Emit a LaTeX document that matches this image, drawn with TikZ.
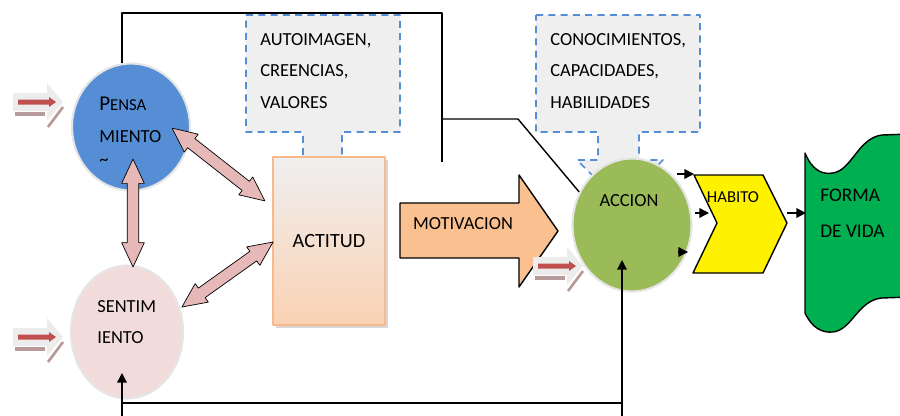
\documentclass[tikz,border=0pt]{standalone}
\usepackage{fontspec}
\setmainfont{Carlito}
\usetikzlibrary{shapes.geometric,shapes.arrows,calc,shadows,arrows.meta}
\definecolor{pensablue}{HTML}{558ED5}
\definecolor{sentimpink}{HTML}{F2DCDB}
\definecolor{acciongreen}{HTML}{9BBB59}
\definecolor{formagreen}{HTML}{00B050}
\definecolor{motivorange}{HTML}{FAC090}
\definecolor{actitudedge}{HTML}{FAB98A}
\definecolor{actitudlow}{HTML}{FAD2B4}
\definecolor{calloutgray}{HTML}{EFEFEF}
\definecolor{pinkarrow}{HTML}{E6B9B8}
\definecolor{inred}{HTML}{C0504D}
\definecolor{inshadow}{HTML}{B79A9A}
\begin{document}
\begin{tikzpicture}[>={Triangle[length=5.5pt,width=5.5pt]},line join=round,x=0.02cm,y=-0.02cm,font=\fontsize{10.5}{18}\selectfont,
	blob/.style={ellipse,draw=gray!20,line width=1.2pt,inner sep=0pt},
	dblarrow/.style={double arrow,draw=black,line width=0.4pt,fill=pinkarrow,minimum width=0.44cm,double arrow head extend=0.11cm,double arrow tip angle=50,inner xsep=0pt,inner ysep=0.11cm},
	callout/.style={draw=pensablue,dash pattern=on 4pt off 3pt,line width=0.9pt,fill=calloutgray},
	txt/.style={inner sep=0pt,align=left,anchor=north west},
	link/.style={line width=0.8pt}]
	\useasboundingbox (0,0) rectangle (900,416);
	% callouts
	\draw[callout] (246,15) -- (400,15) -- (400,132) -- (342,132) -- (342,160) -- (365,160) -- (322,203) -- (280,160) -- (303,160) -- (303,132) -- (246,132) -- cycle;
	\draw[callout] (536,15) -- (700,15) -- (700,132) -- (639,132) -- (639,160) -- (663,160) -- (620,203) -- (577,160) -- (598,160) -- (598,132) -- (536,132) -- cycle;
	\node[txt] (autoimg) at (260,33) {AUTOIMAGEN,\\CREENCIAS,\\VALORES};
	\node[txt] (conoc) at (550,33) {CONOCIMIENTOS,\\CAPACIDADES,\\HABILIDADES};
	% nodes
	\node[blob,fill=pensablue,minimum width=2.36cm,minimum height=2.54cm] (pensa) at (131,127) {};
	\node[blob,fill=sentimpink,minimum width=2.24cm,minimum height=2.66cm] (sentim) at (127,332) {};
	\node[blob,fill=acciongreen,minimum width=2.38cm,minimum height=2.66cm] (accion) at (632,225) {};
	\node[draw=actitudedge,line width=1.2pt,top color=calloutgray,bottom color=actitudlow,minimum width=2.24cm,minimum height=3.36cm,inner sep=0pt,drop shadow={shadow xshift=1.5pt,shadow yshift=-1.5pt,fill=black!30},font=\fontsize{11.5}{14}\selectfont] (actitud) at (329,241) {ACTITUD\hspace{7pt}};
	\node[txt] (pensatxt) at (99,97) {{\fontsize{12}{18}\selectfont P}{\fontsize{9.5}{18}\selectfont ENSA}\\MIENTO\\[-5pt]\textasciitilde};
	\node[txt] (sentimtxt) at (97,300) {SENTIM\\IENTO};
	\node (acciontxt) at (629,201) {ACCION};
	% motivacion
	\fill[motivorange,draw=black,link] (400,203) -- (519,203) -- (519,175) -- (558,231) -- (519,287) -- (519,258) -- (400,258) -- cycle;
	\node (motiv) at (463,224) {MOTIVACION};
	% habito
	\fill[yellow,draw=black,link] (694,175) -- (763,175) -- (787,223) -- (763,273) -- (693,273) -- (717,223) -- cycle;
	\node[font=\fontsize{9.5}{12}\selectfont] (habito) at (733,197) {HABITO};
	% forma de vida
	\begin{scope}
		\clip (0,0) rectangle (900,416);
		\fill[formagreen,draw=black,link] (805,153) .. controls (812,170) and (822,175) .. (833,173) .. controls (852,170) and (858,138) .. (882,135) -- (910,134) -- (910,297) -- (882,298) .. controls (858,300) and (852,330) .. (833,332) .. controls (822,333) and (812,328) .. (805,313) -- cycle;
	\end{scope}
	\node[txt,font=\fontsize{11}{20}\selectfont] (forma) at (820,189) {FORMA\\DE VIDA};
	% connectors
	\coordinate (topend) at (442,162);
	\coordinate (brk) at (442,119);
	\coordinate (s_in) at (122,373);
	\coordinate (a_in) at (622,260);
	\draw[link] ($(pensa.north)+(-9,1)$) |- (442,13) -- (topend);
	\draw[link] (brk) -- (518,119) -- (accion.148);
	\draw[link,->] (122,416) -- (s_in);
	\draw[link,->] (622,416) -- (a_in);
	\draw[link] (122,403) -- (622,403);
	\draw[link,->] (677,174) -- (694,174);
	\draw[link,->] (695,213) -- (709,213);
	\draw[link,->] (678,252) -- (688,252);
	\draw[link,->] (787,213) -- (806,213);
	% double arrows
	\coordinate (pa1) at (172,128);
	\coordinate (pa2) at (265,201);
	\coordinate (sa1) at (182,307);
	\coordinate (sa2) at (273,242);
	\coordinate (ps1) at (133,159);
	\coordinate (ps2) at (133,267);
	\node[dblarrow,rotate=-38.1,minimum height=2.36cm] (pa) at ($(pa1)!.5!(pa2)$) {};
	\node[dblarrow,rotate=35.5,minimum height=2.24cm] (sa) at ($(sa1)!.5!(sa2)$) {};
	\node[dblarrow,rotate=90,minimum height=2.16cm] (ps) at ($(ps1)!.5!(ps2)$) {};
	% input arrows
	\foreach \dx/\dy in {0/0,0/235,520/164}{
		\begin{scope}[shift={(\dx,\dy)}]
			\fill[gray!15] (13,93) -- (47,93) -- (47,83) -- (63,102) -- (47,121) -- (47,111) -- (13,111) -- cycle;
			\draw[inshadow,line width=2pt] (15,114) -- (45,114);
			\draw[inshadow,line width=1.5pt] (48,127) -- (63,107);
			\fill[inred] (18,99.5) -- (49,99.5) -- (49,97) -- (56,102) -- (49,107) -- (49,104.5) -- (18,104.5) -- cycle;
		\end{scope}
	}
\end{tikzpicture}
\end{document}
